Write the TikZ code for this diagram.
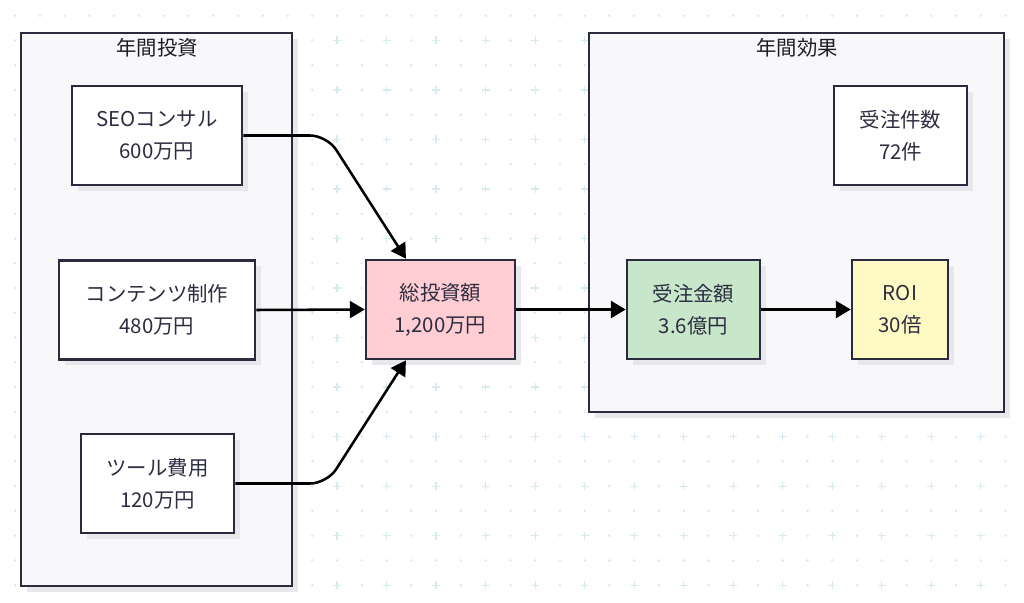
\documentclass[tikz,border=0pt]{standalone}
\usepackage{fontspec}
\newfontfamily\jpfont{Noto Sans CJK JP}
\usetikzlibrary{arrows.meta,shadows}

\definecolor{linec}{RGB}{43,43,64}
\definecolor{textc}{RGB}{45,45,66}
\definecolor{titlec}{RGB}{30,30,40}
\definecolor{groupc}{RGB}{248,248,250}
\definecolor{shadowc}{RGB}{232,232,236}
\definecolor{dotc}{RGB}{214,235,240}
\definecolor{totalc}{RGB}{255,205,210}
\definecolor{amountc}{RGB}{200,230,201}
\definecolor{roic}{RGB}{255,249,196}

\tikzset{
  boxshadow/.style={drop shadow={shadow xshift=0.14cm, shadow yshift=-0.14cm, fill=shadowc, opacity=1}},
  groupbox/.style={draw=linec, fill=groupc, line width=1.8pt, boxshadow},
  grouptitle/.style={text=titlec, font=\jpfont\fontsize{14.5}{18}\selectfont},
  procbox/.style={draw=linec, fill=white, line width=1.8pt, boxshadow, align=center,
    text=textc, inner sep=0pt, minimum height=2.475cm,
    font=\jpfont\fontsize{14.5}{22.7}\selectfont},
  flow/.style={-{Triangle[length=10.5pt,width=12pt]}, line width=1.8pt, black},
}

\begin{document}
\begin{tikzpicture}[x=0.025cm, y=-0.025cm]
                \useasboundingbox (0,0) rectangle (1024,603);
                \fill[white] (0,0) rectangle (1024,603);

                % background grid
                \foreach \i in {0,...,40}
                  \foreach \j in {0,...,24}
                    \fill[dotc] ({15.2+24.76*\i},{15.7+24.76*\j}) circle (1pt);
                \foreach \i in {1,3,...,39}
                  \foreach \j in {1,3,...,23}
                    \draw[dotc, line width=0.9pt] ({15.2+24.76*\i},{15.7+24.76*\j}) +(-4,0) -- +(4,0) +(0,-4) -- +(0,4);

                % groups
                \node[groupbox, minimum width=6.775cm, minimum height=13.825cm] (invest) at (156.5,309.5) {};
                \node[grouptitle] (investtitle) at (157,48) {年間投資};
                \node[groupbox, minimum width=10.375cm, minimum height=9.475cm] (effect) at (796.5,222.5) {};
                \node[grouptitle] (effecttitle) at (797,48) {年間効果};

                % boxes
                \node[procbox, minimum width=4.25cm] (seo) at (157,135.5) {SEOコンサル\\600万円};
                \node[procbox, minimum width=4.9cm] (content) at (157,310) {コンテンツ制作\\480万円};
                \node[procbox, minimum width=3.825cm] (tool) at (157.5,483.5) {ツール費用\\120万円};
                \node[procbox, minimum width=3.725cm, fill=totalc] (total) at (440.5,309.5) {総投資額\\1,200万円};
                \node[procbox, minimum width=3.325cm] (ordercnt) at (900.5,135.5) {受注件数\\72件};
                \node[procbox, minimum width=3.325cm, fill=amountc] (orderamt) at (693.5,309.5) {受注金額\\3.6億円};
                \node[procbox, minimum width=2.4cm, fill=roic] (roi) at (900,309.5) {ROI\\30倍};

                % connectors
                \coordinate (bendtop) at (327,135.5);
                \coordinate (bendbot) at (327,483.5);
                \draw[flow, rounded corners=12pt] (seo.east) -- (bendtop) -- ([xshift=1.03cm]total.north west);
                \draw[flow] (content.east) -- (total.west);
                \draw[flow, rounded corners=12pt] (tool.east) -- (bendbot) -- ([xshift=1.03cm]total.south west);
                \draw[flow] (total.east) -- (orderamt.west);
                \draw[flow] (orderamt.east) -- (roi.west);
\end{tikzpicture}
\end{document}
